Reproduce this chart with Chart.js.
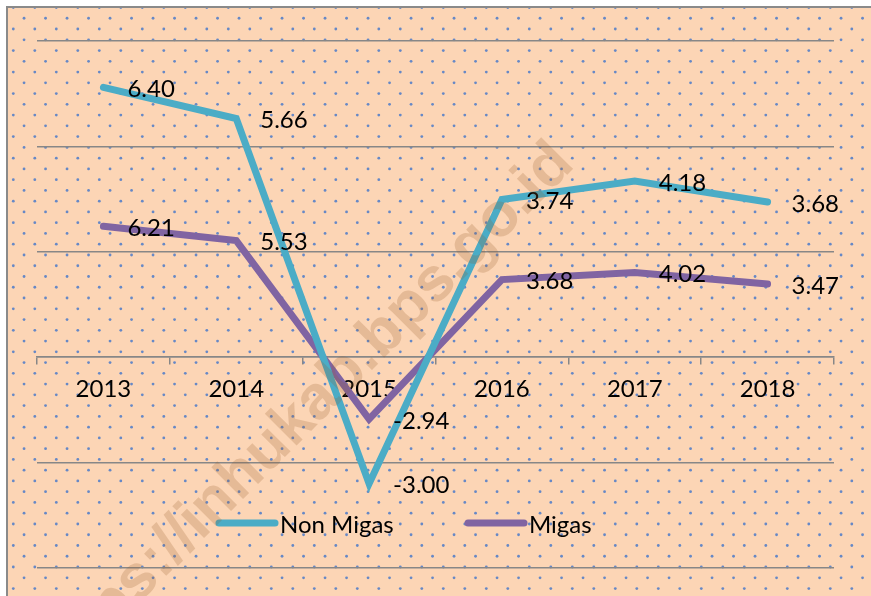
<!DOCTYPE html>
<html>
<head>
<meta charset="utf-8">
<script src="https://cdn.jsdelivr.net/npm/chart.js@4.4.1/dist/chart.umd.min.js"></script>
<style>
  html, body { margin: 0; padding: 0; background: #fff; }
  canvas { display: block; }
</style>
</head>
<body>
<canvas id="chart" width="871" height="596"></canvas>
<script>
// data
const years = ["2013", "2014", "2015", "2016", "2017", "2018"];
const nonMigas = [6.40, 5.66, -3.00, 3.74, 4.18, 3.68];
const migas = [6.21, 5.53, -2.94, 3.68, 4.02, 3.47];
const seriesNames = ["Non Migas", "Migas"];
const seriesColors = ["#4bacc6", "#8064a2"];
const yTicks = [-5, -2.5, 0, 2.5, 5, 7.5];
const watermarkText = "https://inhukab.bps.go.id";

const gridColor = "#878787";
const labelFont = "24px Lato";

// peach background with dotted fill and frame
const backgroundPlugin = {
    id: "background",
    beforeDraw(chart) {
        const ctx = chart.ctx;
        const w = chart.width, h = chart.height;
        ctx.save();
        ctx.fillStyle = "#ffffff";
        ctx.fillRect(0, 0, w, h);
        ctx.fillStyle = "#fcd5b5";
        ctx.fillRect(7, 7, w - 7, h - 7);
        ctx.fillStyle = "rgba(85, 128, 200, 0.9)";
        for (let k = 0; 7.5 + k * 10.76 < h + 5; k++) {
            const y = 7.5 + k * 10.76;
            const x0 = 13.3 + (k % 2) * 10.75;
            for (let x = x0; x < w + 5; x += 21.5) {
                ctx.beginPath();
                ctx.arc(x, y, 1.4, 0, Math.PI * 2);
                ctx.fill();
            }
        }
        ctx.strokeStyle = "#8a8a8a";
        ctx.lineWidth = 2;
        ctx.beginPath();
        ctx.moveTo(7, h);
        ctx.lineTo(7, 7);
        ctx.lineTo(w, 7);
        ctx.stroke();
        ctx.restore();
    }
};

// value labels to the right of each point
const valueLabelPlugin = {
    id: "valueLabels",
    afterDatasetsDraw(chart) {
        const ctx = chart.ctx;
        ctx.save();
        ctx.font = labelFont;
        ctx.fillStyle = "#000";
        ctx.textAlign = "left";
        ctx.textBaseline = "middle";
        chart.data.datasets.forEach((ds, i) => {
            const meta = chart.getDatasetMeta(i);
            meta.data.forEach((pt, j) => {
                ctx.fillText(ds.data[j].toFixed(2), pt.x + 24, pt.y + 2);
            });
        });
        ctx.restore();
    }
};

// legend at the bottom + watermark
const legendPlugin = {
    id: "customLegend",
    afterDraw(chart) {
        const ctx = chart.ctx;
        ctx.save();
        const items = [
            { x: 219, textX: 280 },
            { x: 468, textX: 529 }
        ];
        const y = 523;
        items.forEach((it, i) => {
            ctx.strokeStyle = seriesColors[i];
            ctx.lineWidth = 7;
            ctx.lineCap = "round";
            ctx.beginPath();
            ctx.moveTo(it.x, y);
            ctx.lineTo(it.x + 56, y);
            ctx.stroke();
            ctx.font = labelFont;
            ctx.fillStyle = "#000";
            ctx.textBaseline = "middle";
            ctx.textAlign = "left";
            ctx.fillText(seriesNames[i], it.textX, y + 2);
        });

        // faint diagonal watermark
        ctx.translate(576, 166);
        ctx.rotate(-45 * Math.PI / 180);
        ctx.font = "bold 62px 'Liberation Sans'";
        ctx.fillStyle = "rgba(150, 90, 40, 0.22)";
        ctx.textAlign = "right";
        ctx.textBaseline = "alphabetic";
        ctx.fillText(watermarkText, 0, 0);
        ctx.restore();
    }
};

const ctx = document.getElementById("chart").getContext("2d");
const chart = new Chart(ctx, {
    type: "line",
    data: {
        labels: years,
        datasets: [
            {
                label: seriesNames[0],
                data: nonMigas,
                borderColor: seriesColors[0],
                borderWidth: 7,
                borderCapStyle: "round",
                borderJoinStyle: "miter",
                pointRadius: 0,
                tension: 0,
                yAxisID: "y"
            },
            {
                label: seriesNames[1],
                data: migas,
                borderColor: seriesColors[1],
                borderWidth: 7,
                borderCapStyle: "round",
                borderJoinStyle: "miter",
                pointRadius: 0,
                tension: 0,
                yAxisID: "y2"
            }
        ]
    },
    options: {
        responsive: false,
        animation: false,
        layout: { padding: { left: 37, right: 37, top: 41, bottom: 28 } },
        plugins: {
            legend: { display: false },
            tooltip: { enabled: false }
        },
        scales: {
            x: {
                type: "category",
                offset: true,
                position: { y: 0 },
                afterFit: s => { s.height = 0; },
                grid: {
                    offset: true,
                    drawOnChartArea: false,
                    drawTicks: true,
                    tickLength: 7,
                    color: gridColor,
                    lineWidth: 1.5
                },
                border: { display: true, color: gridColor, width: 1.5 },
                ticks: {
                    font: { family: "Lato", size: 24 },
                    color: "#000",
                    padding: 11,
                    maxRotation: 0
                }
            },
            y: {
                type: "linear",
                min: -5,
                max: 7.5,
                afterBuildTicks: s => { s.ticks = yTicks.map(v => ({ value: v })); },
                afterFit: s => { s.width = 0; },
                grid: { color: gridColor, lineWidth: 1.5, drawTicks: false },
                border: { display: false },
                ticks: { display: false }
            },
            y2: {
                type: "linear",
                min: -10,
                max: 15,
                display: false
            }
        }
    },
    plugins: [backgroundPlugin, valueLabelPlugin, legendPlugin]
});
</script>
</body>
</html>
